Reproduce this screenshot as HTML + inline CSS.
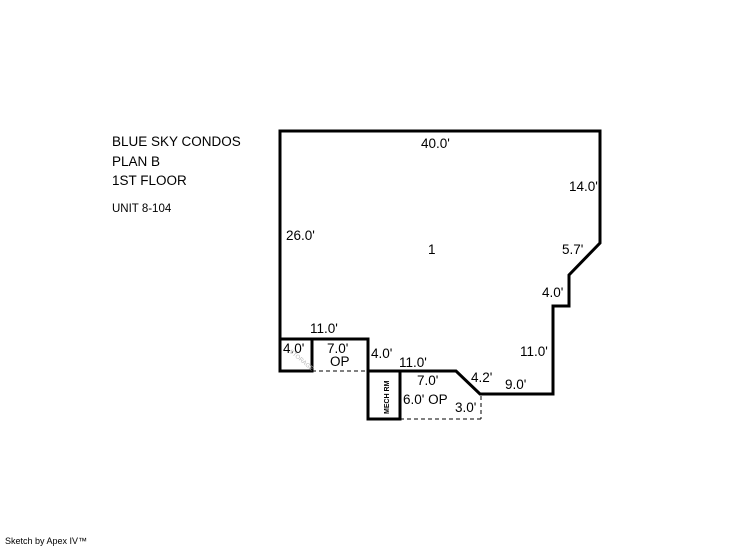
<!DOCTYPE html>
<html><head><style>
body{margin:0;background:#fff;width:746px;height:547px;overflow:hidden}
svg text{font-family:"Liberation Sans",Arial,sans-serif;fill:#000}
</style></head><body>
<svg width="746" height="547" xmlns="http://www.w3.org/2000/svg">
<g fill="none" stroke="#000" stroke-width="3" stroke-linejoin="miter">
<polyline points="280,339 280,131 600,131 600,243 569,275 569,306 553,306 553,394 480,394 456,371 400,371"/>
<polyline points="280,339 368,339 368,371 368,419 400,419 400,371 368,371"/>
<rect x="280" y="339" width="32" height="32"/>
</g>
<g fill="none" stroke="#000" stroke-width="1" stroke-dasharray="4,3">
<line x1="312" y1="371" x2="368" y2="371"/>
<line x1="400" y1="419" x2="481" y2="419"/>
<line x1="481" y1="396" x2="481" y2="419"/>
</g>
<g font-size="13.5">
<text x="112" y="146">BLUE SKY CONDOS</text>
<text x="112" y="166">PLAN B</text>
<text x="112" y="185">1ST FLOOR</text>
<text x="112" y="212" font-size="11.5">UNIT 8-104</text>
<text x="421" y="148">40.0'</text>
<text x="569" y="191">14.0'</text>
<text x="286" y="240">26.0'</text>
<text x="428" y="254">1</text>
<text x="562" y="254">5.7'</text>
<text x="542" y="297">4.0'</text>
<text x="310" y="333">11.0'</text>
<text x="520" y="356">11.0'</text>
<text x="283" y="353">4.0'</text>
<text x="327" y="353">7.0'</text>
<text x="330" y="366">OP</text>
<text x="371" y="358">4.0'</text>
<text x="399" y="367">11.0'</text>
<text x="417" y="385">7.0'</text>
<text x="471" y="382">4.2'</text>
<text x="505" y="389">9.0'</text>
<text x="403" y="404">6.0' OP</text>
<text x="455" y="412">3.0'</text>
<text x="5" y="544" font-size="9">Sketch by Apex IV™</text>
</g>
<text x="0" y="0" font-size="7" font-weight="bold" transform="translate(389,414) rotate(-90)">MECH RM</text>
<text x="0" y="0" font-size="6" style="fill:#bbb" transform="translate(289,352) rotate(40)">STORAGE</text>
</svg>
</body></html>
